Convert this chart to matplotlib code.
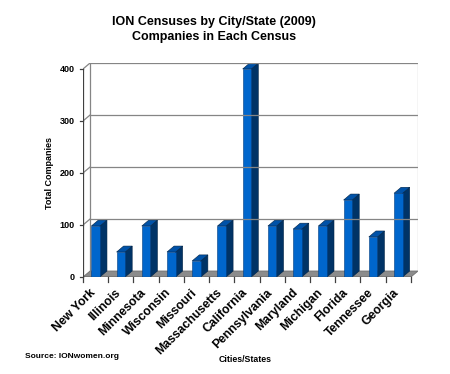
import matplotlib.pyplot as plt
from matplotlib.patches import Polygon
from matplotlib.transforms import ScaledTranslation

plt.rcParams['font.family'] = ['Liberation Sans', 'DejaVu Sans']

states = ["New York", "Illinois", "Minnesota", "Wisconsin", "Missouri",
          "Massachusetts", "California", "Pennsylvania", "Maryland",
          "Michigan", "Florida", "Tennessee", "Georgia"]
companies = [98, 48, 98, 48, 31, 98, 400, 98, 92, 98, 148, 77, 161]
yticks = [0, 100, 200, 300, 400]

# fake 3d depth, in data units
dx = 0.28
dy = 11.5
bw = 0.34

front_c = "#0066cc"
side_c = "#003366"
top_c = "#0052a8"

fig = plt.figure(figsize=(4.5, 3.74), dpi=100)
W, H = 450, 374
x0, x1 = 83, 418
y0, y1 = 277, 63
ax = fig.add_axes([x0 / W, 1 - y0 / H, (x1 - x0) / W, (y0 - y1) / H])
n = len(states)
ax.set_xlim(-0.5, n - 0.5 + dx)
ax.set_ylim(0, 400 + dy)
for s in ax.spines.values():
    s.set_visible(False)

# back wall and gridlines
wall = "#858585"
for v in yticks[1:]:
    ax.plot([-0.5 + dx, n - 0.5 + dx], [v + dy, v + dy], color=wall, lw=0.9)
    ax.plot([-0.5, -0.5 + dx], [v, v + dy], color=wall, lw=0.9)
ax.plot([-0.5 + dx, -0.5 + dx], [dy, 400 + dy], color=wall, lw=0.9)
ax.plot([n - 0.5 + dx, n - 0.5 + dx], [dy, 400 + dy], color="#b0b0b0", lw=0.9)

# floor
ax.add_patch(Polygon([(-0.5, 0), (n - 0.5, 0), (n - 0.5 + dx, dy), (-0.5 + dx, dy)],
                     closed=True, facecolor="#8c8c8c", edgecolor="#707070", lw=0.6))

# bars
for i, v in enumerate(companies):
    l, r = i - bw / 2, i + bw / 2
    ax.add_patch(Polygon([(r, 0), (r + dx, dy), (r + dx, v + dy), (r, v)],
                         closed=True, facecolor=side_c, edgecolor="#002244", lw=0.4))
    ax.add_patch(Polygon([(l, v), (r, v), (r + dx, v + dy), (l + dx, v + dy)],
                         closed=True, facecolor=top_c, edgecolor="#002244", lw=0.4))
    ax.add_patch(Polygon([(l, 0), (r, 0), (r, v), (l, v)],
                         closed=True, facecolor=front_c, edgecolor="#003c80", lw=0.4))

# front axes
ax.plot([-0.5, -0.5], [0, 400], color="#404040", lw=0.9)
ax.plot([-0.5, n - 0.5], [0, 0], color="#404040", lw=0.9)
for k in range(n + 1):
    ax.plot([k - 0.5, k - 0.5], [0, -10], color="#404040", lw=0.9, clip_on=False)
for v in yticks:
    ax.plot([-0.5, -0.62], [v, v], color="#404040", lw=0.9, clip_on=False)

ax.set_yticks(yticks)
ax.set_yticklabels([str(v) for v in yticks], fontsize=6.5, fontweight="bold")
ax.tick_params(axis="y", length=0, pad=6)
ax.set_xticks(range(n))
ax.set_xticklabels(states, rotation=45, ha="right", rotation_mode="anchor",
                   fontsize=8.8, fontweight="bold")
ax.tick_params(axis="x", length=0, pad=7)
shift = ScaledTranslation(-6 / 100, 0, fig.dpi_scale_trans)
for lab in ax.get_xticklabels():
    lab.set_transform(lab.get_transform() + shift)

fig.text(214 / W, 1 - 22 / H, "ION Censuses by City/State (2009)", ha="center", va="center",
         fontsize=9, fontweight="bold")
fig.text(214 / W, 1 - 37 / H, "Companies in Each Census", ha="center", va="center",
         fontsize=9, fontweight="bold")
fig.text(50 / W, 1 - 173 / H, "Total Companies", rotation=90, ha="center", va="center",
         fontsize=6.5, fontweight="bold")
fig.text(245 / W, 1 - 359 / H, "Cities/States", ha="center", va="center",
         fontsize=6.3, fontweight="bold")
fig.text(25 / W, 1 - 357 / H, "Source: IONwomen.org", ha="left", va="center",
         fontsize=6, fontweight="bold")

fig.savefig("out.png", dpi=100)
